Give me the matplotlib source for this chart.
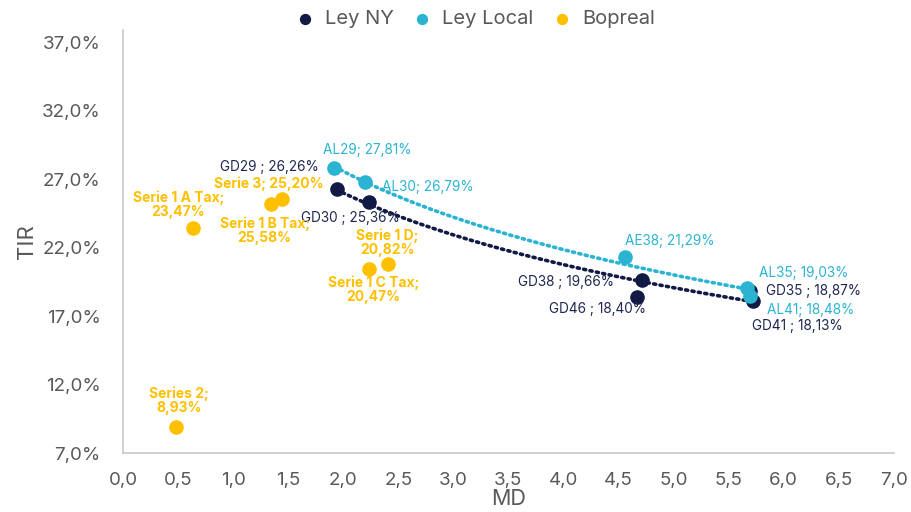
import numpy as np
import matplotlib
matplotlib.use("Agg")
import matplotlib.pyplot as plt
from matplotlib.ticker import FuncFormatter, MultipleLocator

plt.rcParams['font.family'] = ['Inter', 'DejaVu Sans']

# Ley NY bonds
ny_names = ["GD29", "GD30", "GD38", "GD46", "GD35", "GD41"]
ny_md = [1.94, 2.23, 4.71, 4.67, 5.69, 5.72]
ny_tir = [26.26, 25.36, 19.66, 18.40, 18.87, 18.13]

# Ley Local bonds
loc_names = ["AL29", "AL30", "AE38", "AL35", "AL41"]
loc_md = [1.92, 2.20, 4.56, 5.67, 5.69]
loc_tir = [27.81, 26.79, 21.29, 19.03, 18.48]

# Bopreal
bop_names = ["Serie 1 A Tax", "Serie 3", "Serie 1 B Tax", "Serie 1 D", "Serie 1 C Tax", "Series 2"]
bop_md = [0.64, 1.34, 1.44, 2.41, 2.23, 0.48]
bop_tir = [23.47, 25.20, 25.58, 20.82, 20.47, 8.93]
bop_labels = ["Serie 1 A Tax;\n23,47%", "Serie 3; 25,20%", "Serie 1 B Tax;\n25,58%",
              "Serie 1 D;\n20,82%", "Serie 1 C Tax;\n20,47%", "Series 2;\n8,93%"]

navy = "#101a45"
cyan = "#2ab4d2"
gold = "#ffc000"
grey = "#595959"

# label offsets in pixels (dx, dy)
ny_off = [(-67, 22), (-18, -16), (-76, -2), (-40, -12), (64, 0), (44, -25)]
loc_off = [(33, 18), (63, -5), (45, 16), (56, 15), (61, -14)]
bop_off = [(-15, 23), (-2, 20), (-17, -32), (-1, 21), (5, -21), (3, 26)]

fig = plt.figure(figsize=(9.12, 5.12), dpi=100)
ax = fig.add_axes([0.1349, 0.1152, 0.8451, 0.8262])


def fmt(v):
    return f"{v:.2f}".replace(".", ",")


def trend(x, y, color):
    x = np.array(x)
    y = np.array(y)
    a, b = np.polyfit(np.log(x), y, 1)
    xs = np.linspace(x.min(), x.max(), 200)
    ax.plot(xs, a * np.log(xs) + b, linestyle=(0, (0.6, 1.2)), lw=2.6,
            color=color, dash_capstyle='round', zorder=2)


trend(ny_md, ny_tir, navy)
trend(loc_md, loc_tir, cyan)

ax.scatter(ny_md, ny_tir, s=90, color=navy, zorder=3, label="Ley NY")
ax.scatter(loc_md, loc_tir, s=90, color=cyan, zorder=4, label="Ley Local")
ax.scatter(bop_md, bop_tir, s=90, color=gold, zorder=3, label="Bopreal")

for n, x, y, o in zip(ny_names, ny_md, ny_tir, ny_off):
    ax.annotate(f"{n} ; {fmt(y)}%", (x, y), xytext=o, textcoords='offset pixels',
                ha='center', va='center', fontsize=9.8, color="#1e2750")
for n, x, y, o in zip(loc_names, loc_md, loc_tir, loc_off):
    ax.annotate(f"{n}; {fmt(y)}%", (x, y), xytext=o, textcoords='offset pixels',
                ha='center', va='center', fontsize=9.8, color=cyan)
for lab, x, y, o in zip(bop_labels, bop_md, bop_tir, bop_off):
    ax.annotate(lab, (x, y), xytext=o, textcoords='offset pixels',
                ha='center', va='center', fontsize=10, color=gold,
                fontweight='bold', linespacing=1.0)

ax.set_xlim(0, 7)
ax.set_ylim(7, 37.9)
ax.xaxis.set_major_locator(MultipleLocator(0.5))
ax.set_yticks([7, 12, 17, 22, 27, 32, 37])
ax.xaxis.set_major_formatter(FuncFormatter(lambda v, p: f"{v:.1f}".replace(".", ",")))
ax.yaxis.set_major_formatter(FuncFormatter(lambda v, p: f"{v:.1f}%".replace(".", ",")))
ax.tick_params(length=0, labelsize=13.5, labelcolor=grey)
ax.tick_params(axis='y', pad=16)
ax.tick_params(axis='x', pad=14)

for s in ['top', 'right']:
    ax.spines[s].set_visible(False)
for s in ['left', 'bottom']:
    ax.spines[s].set_color("#c8c8c8")
    ax.spines[s].set_linewidth(1.2)

ax.set_xlabel("MD", fontsize=15.5, color=grey, labelpad=0)
ax.set_ylabel("TIR", fontsize=16, color=grey, labelpad=4)

ax.legend(loc='upper center', bbox_to_anchor=(0.45, 1.09), ncol=3, frameon=False,
          fontsize=14.5, labelcolor=grey, handletextpad=0.0, columnspacing=0.4,
          markerscale=0.75)

fig.savefig("out.png", dpi=100)
